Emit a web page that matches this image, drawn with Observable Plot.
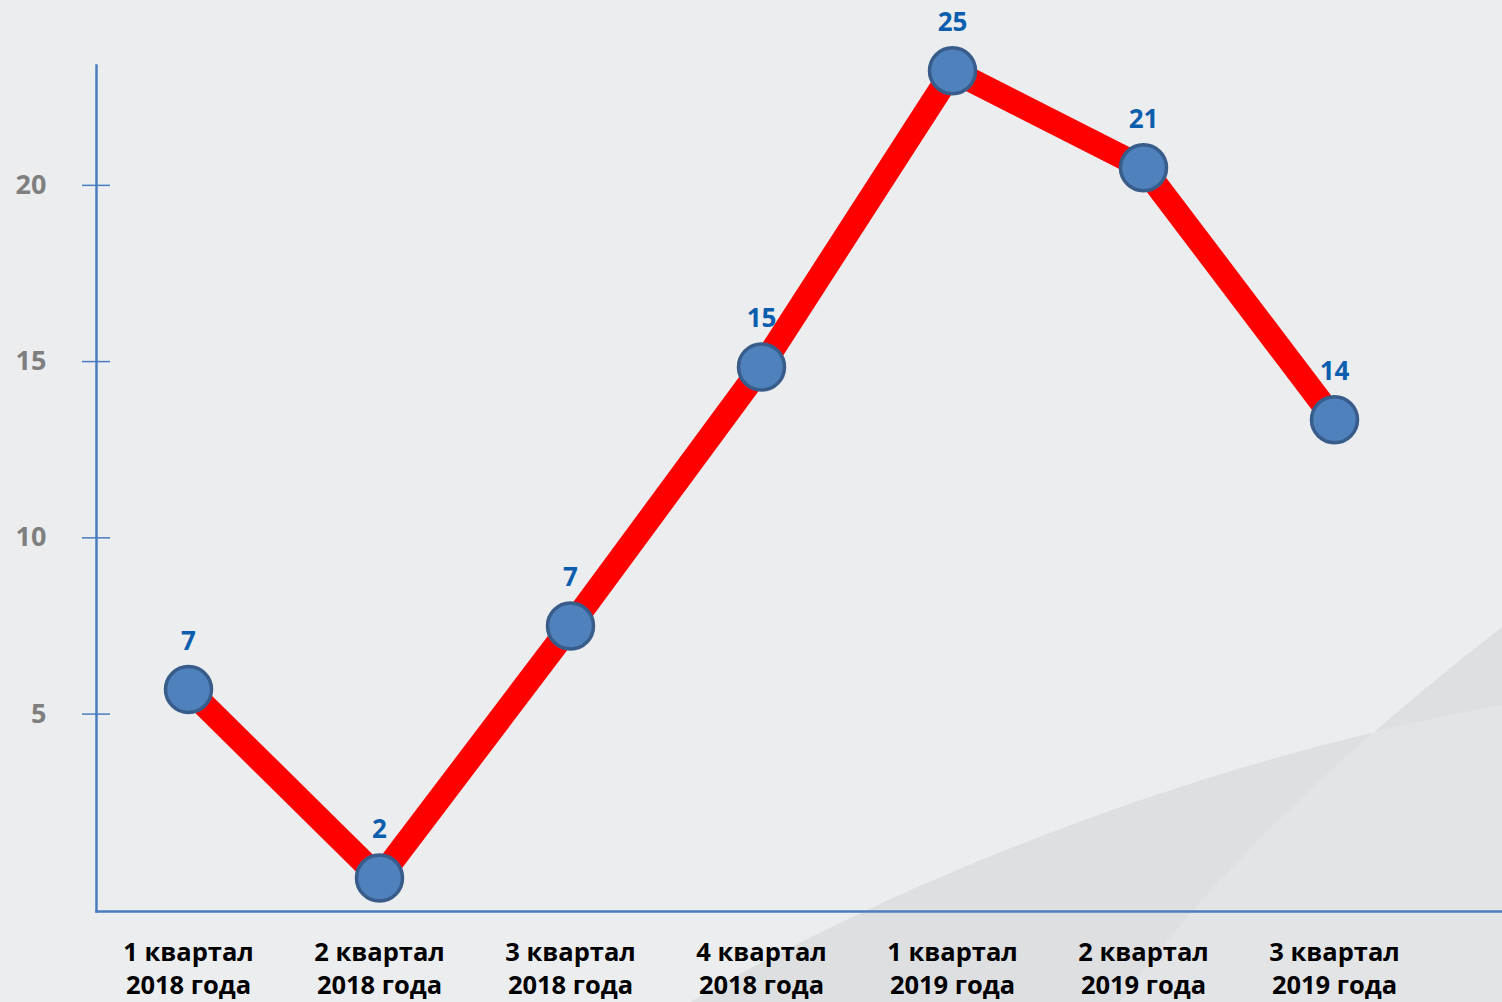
<!DOCTYPE html>
<html><head><meta charset="utf-8">
<script src="https://cdn.jsdelivr.net/npm/d3@7"></script>
<script src="https://cdn.jsdelivr.net/npm/@observablehq/plot@0.6"></script>
<style>
html,body{margin:0;padding:0;background:#ECEDEF;}
#wrap{position:relative;width:1502px;height:1002px;overflow:hidden;}
#bg,#chart{position:absolute;left:0;top:0;}
</style></head><body>
<div id="wrap">
<svg id="bg" width="1502" height="1002">
  <path d="M690,1002 C 900,880 1200,760 1502,705 L1502,1002 Z M1120,1002 C 1200,890 1330,760 1502,627 L1502,1002 Z" fill="#000" fill-opacity="0.034"/>
  <path fill-rule="evenodd" d="M690,1002 C 900,880 1200,760 1502,705 L1502,1002 Z M1120,1002 C 1200,890 1330,760 1502,627 L1502,1002 Z" fill="#000" fill-opacity="0.02"/>
</svg>
<div id="chart"></div>
</div>
<script>
const quarters = ["1 квартал","2 квартал","3 квартал","4 квартал","1 квартал","2 квартал","3 квартал"];
const years = ["2018 года","2018 года","2018 года","2018 года","2019 года","2019 года","2019 года"];
const values = [5.7, 0.35, 7.5, 14.85, 23.25, 20.5, 13.35];
const dataLabels = ["7","2","7","15","25","21","14"];
const yTicks = [5, 10, 15, 20];

const data = quarters.map((q, i) => ({cat: q + "\n" + years[i], value: values[i], label: dataLabels[i]}));
const axisColor = "#4A7CC0";

const chart = Plot.plot({
  width: 1502, height: 1002,
  marginLeft: 96, marginRight: 0, marginTop: 65, marginBottom: 91,
  style: {background: "transparent", fontFamily: "'Open Sans', sans-serif", overflow: "visible"},
  x: {type: "point", domain: data.map(d => d.cat), range: [186, 1335], padding: 0},
  y: {domain: [-0.6, 23.4]},
  marks: [
    Plot.frame({anchor: "left", stroke: axisColor, strokeWidth: 2.5}),
    Plot.frame({anchor: "bottom", stroke: axisColor, strokeWidth: 2.5}),
    Plot.axisY(yTicks, {tickSize: 28, dx: 14, tickFormat: () => "", stroke: axisColor, strokeWidth: 1.5, label: null}),
    Plot.axisY(yTicks, {tickSize: 0, tickPadding: 50, fontSize: 27, fontWeight: "bold", fill: "#7F7F7F", label: null}),
    Plot.axisX({tickSize: 0, tickPadding: 26, fontSize: 25.5, fontWeight: "bold", fill: "#000", lineHeight: 1.3, label: null}),
    Plot.line(data, {x: "cat", y: "value", stroke: "#FF0000", strokeWidth: 24}),
    Plot.dot(data, {x: "cat", y: "value", r: 23, fill: "#4F81BD", stroke: "#385D8A", strokeWidth: 3.5}),
    Plot.text(data, {x: "cat", y: "value", text: "label", dy: -48, fill: "#0B5DAD", fontSize: 26, fontWeight: "bold"})
  ]
});
document.getElementById("chart").appendChild(chart);
</script>
</body></html>
